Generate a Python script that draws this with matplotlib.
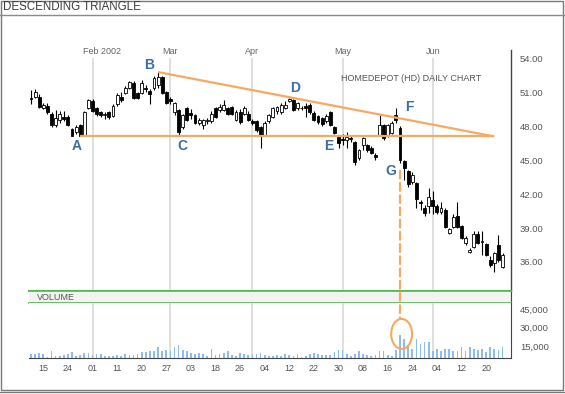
import matplotlib
matplotlib.use("Agg")
import matplotlib.pyplot as plt
from matplotlib.patches import ConnectionPatch, Ellipse, Rectangle
from matplotlib.lines import Line2D
import numpy as np

plt.rcParams["font.family"] = ["Liberation Sans", "DejaVu Sans"]

# --- data (trading-day index 0..115, Jan-Jun 2002) ---
opens = [50.5, 50.6, 50.6, 49.6, 49.8, 49.1, 48.1, 48.5, 48.8, 48.8,
         47.7, 47.5, 48.1, 47.15, 49.6, 50.2, 49.6, 49.2, 49.0, 49.2,
         48.9, 49.9, 50.6, 50.95, 51.4, 51.8, 50.9, 50.9, 51.4, 51.1,
         51.4, 51.6, 52.3, 51.0, 50.4, 49.2, 49.4, 47.9, 49.6, 49.15,
         49.0, 48.3, 48.1, 48.4, 48.4, 49.6, 49.4, 49.4, 49.6, 49.7,
         48.5, 49.2, 49.1, 49.1, 48.4, 48.4, 47.9, 47.2, 48.4, 48.8,
         49.3, 49.2, 49.6, 50.2, 50.3, 49.6, 49.6, 49.8, 49.85, 49.15,
         48.9, 48.7, 48.45, 49.2, 47.9, 47.0, 46.85, 46.8, 46.95, 46.6,
         45.2, 46.3, 46.3, 46.1, 45.45, 47.2, 48.1, 47.2, 47.4, 49.0,
         47.8, 44.9, 44.0, 43.1, 43.0, 41.3, 40.8, 40.9, 41.5, 40.9,
         40.4, 40.6, 38.6, 39.1, 40.1, 39.2, 37.7, 36.9, 37.3, 38.5,
         37.75, 37.6, 36.2, 35.9, 37.5, 35.6]
highs = [51.2, 51.3, 50.8, 50.0, 50.0, 49.2, 49.4, 49.3, 49.3, 49.0,
         47.8, 48.1, 48.2, 49.3, 50.4, 50.4, 49.7, 49.3, 49.2, 49.3,
         49.9, 50.9, 51.0, 51.5, 52.0, 52.0, 51.0, 52.1, 51.6, 51.3,
         52.4, 52.76, 52.4, 51.1, 50.6, 50.1, 49.5, 49.1, 49.7, 49.5,
         49.1, 48.7, 48.6, 48.7, 49.3, 49.7, 49.9, 50.3, 49.7, 49.8,
         49.4, 49.5, 49.8, 49.3, 48.6, 48.5, 48.0, 48.4, 49.1, 49.7,
         49.8, 50.0, 50.2, 50.5, 50.4, 50.1, 49.8, 50.0, 50.0, 49.3,
         49.0, 48.8, 49.1, 49.3, 48.0, 47.1, 47.3, 47.45, 47.2, 46.7,
         46.0, 47.05, 46.4, 46.2, 45.6, 49.0, 48.2, 48.2, 48.4, 49.6,
         48.0, 45.0, 44.1, 43.9, 43.1, 41.5, 41.0, 42.5, 42.3, 41.1,
         41.3, 40.8, 39.0, 40.2, 41.3, 39.3, 38.3, 37.2, 38.7, 38.7,
         38.7, 37.7, 36.5, 36.9, 38.4, 36.8]
lows = [49.9, 50.5, 49.6, 49.5, 49.1, 47.9, 47.9, 48.3, 48.4, 48.0,
        47.1, 47.3, 47.08, 47.1, 49.5, 49.2, 48.9, 48.8, 48.6, 48.6,
        48.8, 49.8, 50.1, 50.8, 51.3, 50.4, 50.4, 50.8, 51.0, 49.9,
        51.2, 51.4, 50.8, 49.9, 49.9, 49.0, 47.25, 47.7, 48.4, 48.6,
        48.2, 48.1, 47.7, 48.2, 48.3, 48.7, 49.2, 49.3, 49.0, 49.0,
        48.4, 48.2, 49.0, 48.4, 48.1, 47.5, 46.1, 47.1, 48.3, 48.7,
        49.1, 49.1, 49.5, 50.1, 49.3, 49.4, 49.4, 48.8, 49.1, 48.4,
        48.2, 48.0, 48.3, 48.0, 47.3, 46.05, 46.3, 46.1, 46.6, 44.6,
        45.0, 45.9, 45.7, 45.5, 45.0, 47.1, 46.8, 47.0, 47.3, 48.3,
        44.7, 43.2, 42.6, 42.9, 40.8, 40.6, 40.1, 40.3, 40.2, 40.2,
        40.2, 39.0, 38.5, 39.0, 39.0, 38.0, 37.5, 36.8, 37.2, 37.6,
        36.6, 36.5, 35.6, 35.1, 36.0, 35.5]
closes = [50.4, 51.0, 49.7, 49.85, 49.2, 48.1, 48.7, 49.1, 48.6, 48.1,
          47.15, 47.9, 47.15, 49.2, 50.3, 49.3, 49.1, 49.0, 49.1, 48.8,
          49.8, 50.7, 50.3, 51.4, 51.9, 50.5, 50.5, 51.8, 51.3, 50.8,
          52.2, 52.3, 50.9, 50.0, 50.2, 50.0, 47.5, 49.0, 48.5, 48.95,
          48.3, 48.5, 48.5, 48.5, 49.1, 48.8, 49.7, 49.85, 49.1, 49.1,
          49.2, 48.35, 49.6, 48.5, 48.3, 47.65, 47.2, 48.25, 49.0, 49.6,
          49.7, 49.85, 49.85, 50.35, 49.4, 50.0, 49.55, 49.6, 49.2, 48.5,
          48.35, 48.2, 48.9, 48.1, 47.4, 46.5, 46.75, 47.0, 46.85, 44.8,
          45.9, 46.9, 45.9, 45.6, 45.3, 48.1, 46.95, 48.1, 48.3, 48.5,
          45.0, 44.3, 42.9, 43.7, 41.6, 41.2, 40.3, 41.7, 40.9, 40.4,
          40.8, 39.1, 38.9, 40.0, 39.1, 38.1, 38.1, 37.1, 38.5, 37.7,
          37.85, 36.6, 35.75, 36.8, 36.2, 36.6]
volumes = [8700, 9000, 9550, 8500, 6300, 10900, 7400, 6850, 7900, 9000,
           10100, 7400, 8200, 9550, 9800, 8200, 9000, 9000, 6850, 7100,
           7400, 7900, 6850, 8700, 8200, 7900, 8700, 10600, 10400, 10900,
           10900, 14400, 11200, 11700, 11200, 14400, 16300, 12300, 10900, 9550,
           9000, 9550, 9000, 7400, 12800, 8200, 8500, 9550, 10900, 8200,
           7400, 9550, 9000, 8200, 9000, 9000, 9300, 7900, 7100, 7100,
           7900, 6850, 8500, 7700, 7400, 8700, 6300, 7400, 9000, 9800,
           8700, 8200, 8200, 7900, 10100, 11700, 11700, 9000, 7400, 9000,
           11400, 9000, 8200, 6850, 8200, 10900, 10900, 7700, 7400, 12300,
           24400, 21200, 16300, 12800, 21200, 17100, 18500, 18700, 10900, 13100,
           11400, 12500, 13100, 10900, 10900, 14100, 10900, 14100, 12800, 12000,
           12800, 10400, 14100, 12800, 12000, 14100]

month_idx = [15, 34, 54, 76, 98]
month_labels = ["Feb 2002", "Mar", "Apr", "May", "Jun"]
day_ticks = [3, 9, 15, 21, 27, 33, 39, 45, 51, 57, 63, 69, 75, 81, 87, 93, 99, 105, 111]
day_labels = ["15", "24", "01", "11", "20", "27", "03", "18", "26", "04",
              "12", "22", "30", "08", "16", "24", "04", "12", "20"]
price_ticks = [36, 39, 42, 45, 48, 51, 54]
vol_ticks = [15000, 30000, 45000]

# pattern points: support from A's low, resistance from B's high to the apex
a_idx, b_idx, apex_idx, break_idx = 12, 31, 113, 90
point_labels = ["A", "B", "C", "D", "E", "F", "G"]
point_x = [11.1, 28.7, 36.9, 64.4, 72.6, 92.2, 87.7]
point_y = [46.2, 53.4, 46.2, 51.35, 46.2, 49.65, 44.05]

W, H = 565, 394
ORANGE = "#f7a863"
GREEN = "#4dba4a"
GRAY_TXT = "#555555"
BLUE = "#3b6ea5"
XLIM = (-0.49, 117.07)


def rect(x0, y0, x1, y1):
    return [x0 / W, 1 - y1 / H, (x1 - x0) / W, (y1 - y0) / H]


def hide_spines(ax, keep):
    for name, sp in ax.spines.items():
        sp.set_visible(name in keep)


fig = plt.figure(figsize=(W / 100, H / 100), dpi=100)

# outer frame and title bar
fig.add_artist(Rectangle((0.8 / W, 1 - 389.5 / H), 562.5 / W, 389 / H, transform=fig.transFigure,
                         fill=False, ec="#7a7a7a", lw=1))
fig.add_artist(Line2D([0, 1], [1 - 15 / H, 1 - 15 / H], transform=fig.transFigure, color="#8a8a8a", lw=1))
fig.add_artist(Line2D([0, 1], [1 - 392 / H, 1 - 392 / H], transform=fig.transFigure, color="#7a7a7a", lw=1))
fig.text(3 / W, 1 - 7.5 / H, "DESCENDING TRIANGLE", fontsize=8.3, color="#3c3c3c", va="center", ha="left")

ax = fig.add_axes(rect(29, 50, 511, 291))
head = fig.add_axes(rect(29, 291, 511, 303))
axv = fig.add_axes(rect(29, 303, 511, 358))

# --- price panel ---
idx = np.arange(len(closes))
o, h, l, c = map(np.array, (opens, highs, lows, closes))
up = c >= o
bottoms = np.minimum(o, c)
heights = np.maximum(np.abs(c - o), 0.07)
ax.vlines(month_idx, 33.4, 54.0, color="#dcdcdc", lw=1.3, zorder=0)
ax.vlines(idx, l, h, color="black", lw=0.8, zorder=2)
ax.bar(idx, heights, bottom=bottoms, width=0.72, color=np.where(up, "white", "black"),
       edgecolor="black", linewidth=0.6, zorder=3)

support = lows[a_idx]
ax.plot([a_idx, apex_idx], [support, support], color=ORANGE, lw=1.6, zorder=4, solid_capstyle="butt")
ax.plot([b_idx, apex_idx], [highs[b_idx], support], color=ORANGE, lw=1.6, zorder=4, solid_capstyle="butt")

for t, x, y in zip(point_labels, point_x, point_y):
    ax.text(x, y, t, color=BLUE, fontsize=10, fontweight="bold", ha="center", va="center", zorder=5)
ax.text(92.7, 52.22, "HOMEDEPOT (HD) DAILY CHART", fontsize=6.5, color=GRAY_TXT, ha="center", va="center")

for i, (m, lab) in enumerate(zip(month_idx, month_labels)):
    if i == 0:
        ax.annotate(lab, (m, 54.57), xytext=(-6.5, 0), textcoords="offset points",
                    fontsize=6.5, color="#666666", ha="left", va="center")
    else:
        ax.text(m, 54.57, lab, fontsize=6.5, color="#666666", ha="center", va="center")

ax.set_xlim(*XLIM)
ax.set_ylim(33.44, 54.71)
ax.yaxis.tick_right()
ax.set_yticks(price_ticks)
ax.set_yticklabels([f"{v:.2f}" for v in price_ticks])
ax.set_xticks([])
ax.tick_params(axis="y", length=0, pad=6.5, labelsize=6.8, labelcolor=GRAY_TXT)
hide_spines(ax, ["bottom", "right"])
ax.spines["bottom"].set_color(GREEN)
ax.spines["bottom"].set_linewidth(1.2)
ax.spines["right"].set_color("#444444")
ax.spines["right"].set_linewidth(1.0)

# --- volume header band ---
head.set_facecolor("#f3f3f3")
head.set_xticks([])
head.set_yticks([])
hide_spines(head, ["top", "bottom", "right"])
for s in ("top", "bottom"):
    head.spines[s].set_color(GREEN)
    head.spines[s].set_linewidth(1.2)
head.spines["right"].set_color("#444444")
head.text(8.3 / 482, 0.5, "VOLUME", transform=head.transAxes, fontsize=6.5, color=GRAY_TXT,
          ha="left", va="center")

# --- volume panel ---
axv.vlines(month_idx, 0, 60000, color="#dcdcdc", lw=1.3, zorder=0)
axv.bar(idx, volumes, width=0.42, color="#8cbcf3", zorder=2)
axv.set_xlim(*XLIM)
axv.set_ylim(5500, 50100)
axv.yaxis.tick_right()
axv.set_yticks(vol_ticks)
axv.set_yticklabels([f"{v:,}" for v in vol_ticks])
axv.set_xticks(day_ticks)
axv.set_xticklabels(day_labels)
axv.tick_params(axis="y", length=0, pad=6.5, labelsize=6.8, labelcolor=GRAY_TXT)
axv.tick_params(axis="x", length=0, pad=4, labelsize=6.5, labelcolor=GRAY_TXT)
hide_spines(axv, ["bottom", "right"])
axv.spines["bottom"].set_color("#444444")
axv.spines["right"].set_color("#444444")

# breakdown marker: dashed drop line into a circled volume spike
ring_y = 25000
ring_h = 24300
con = ConnectionPatch(xyA=(break_idx, 44.05), coordsA=ax.transData,
                      xyB=(break_idx, ring_y + ring_h / 2), coordsB=axv.transData,
                      color=ORANGE, lw=1.6, linestyle=(0, (3.5, 2)), zorder=6)
fig.add_artist(con)
axv.add_patch(Ellipse((break_idx + 0.4, ring_y), width=5.1, height=ring_h, fill=False,
                      ec=ORANGE, lw=1.5, clip_on=False, zorder=6))

fig.savefig("out.png", dpi=100)
